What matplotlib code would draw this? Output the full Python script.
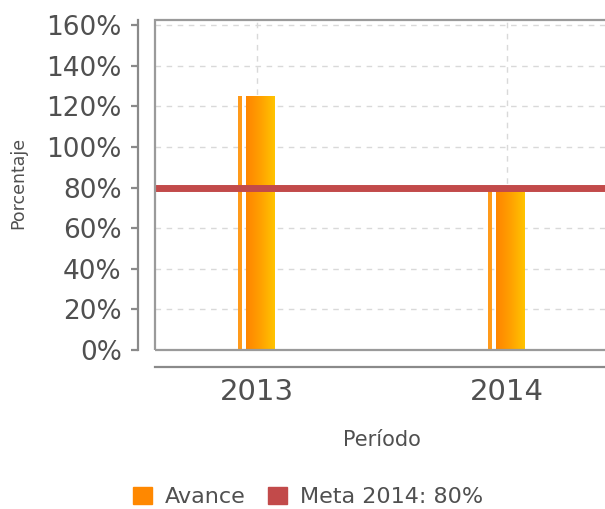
import matplotlib

matplotlib.use("Agg")
import matplotlib.pyplot as plt
import numpy as np
from matplotlib.colors import LinearSegmentedColormap
from matplotlib.patches import Patch, Rectangle

periods = ["2013", "2014"]
avance = [125, 80]
meta = 80
yticks = [0, 20, 40, 60, 80, 100, 120, 140, 160]

fig = plt.figure(figsize=(6.05, 5.09), dpi=100)
# axes run a little past the right edge, like the cropped original
ax = fig.add_axes([155 / 605, 159 / 509, 475 / 605, 330 / 509])

x = np.arange(len(periods))
px = 250  # pixels per category
ax.set_xlim(-102 / px, 373 / px)
ax.set_ylim(0, 162.5)

# dashed grid
for yv in yticks[1:]:
    ax.axhline(yv, color="#d9d9d9", lw=1, ls=(0, (4, 4)), zorder=0)
for xv in x:
    ax.axvline(xv, color="#d9d9d9", lw=1, ls=(0, (4, 4)), zorder=0)

# bars: thin strip + gradient body
grad = LinearSegmentedColormap.from_list("og", ["#ff8500", "#ffa000", "#ffc400"])
g = np.linspace(0, 1, 64).reshape(1, -1)
for xi, v in zip(x, avance):
    ax.bar(xi - 0.068, v, width=0.014, color="#ff9a1a", edgecolor="none", zorder=2)
    x0, x1 = xi - 0.044, xi + 0.072
    ax.imshow(g, cmap=grad, extent=[x0, x1, 0, v], aspect="auto", zorder=2,
              interpolation="bilinear")

ax.axhline(meta, color="#c24a4a", lw=5, zorder=3)

# frame + offset axes
for s in ["top", "right"]:
    ax.spines[s].set_visible(False)
ax.add_patch(Rectangle((0, 0), 1, 1, transform=ax.transAxes, fill=False,
                       ec="#9a9a9a", lw=1.6, clip_on=False, zorder=4))
for s in ["left", "bottom"]:
    ax.spines[s].set_position(("outward", 12))
    ax.spines[s].set_color("#8a8a8a")
    ax.spines[s].set_linewidth(1.6)

ax.set_yticks(yticks)
ax.set_yticklabels([f"{t}%" for t in yticks])
ax.set_xticks(x)
ax.set_xticklabels(periods)
ax.tick_params(axis="y", labelsize=19, colors="#505050", length=5, width=1.6,
               pad=7, color="#8a8a8a")
ax.tick_params(axis="x", labelsize=21, colors="#505050", length=0, pad=8)

ax.set_xlabel("Período", fontsize=15, color="#505050")
ax.xaxis.set_label_coords(227 / 475, -80 / 330)
fig.text(18 / 605, 1 - 183 / 509, "Porcentaje", rotation=90, fontsize=12.5,
         color="#505050", ha="center", va="center")

handles = [Patch(color="#ff8800", label="Avance"),
           Patch(color="#c24a4a", label=f"Meta 2014: {meta}%")]
fig.legend(handles=handles, loc="center", bbox_to_anchor=(308 / 605, 12 / 509),
           ncol=2, frameon=False, fontsize=16, handlelength=0.85, handleheight=0.85,
           handletextpad=0.6, columnspacing=1.0, labelcolor="#505050")

fig.savefig("out.png", dpi=100)
